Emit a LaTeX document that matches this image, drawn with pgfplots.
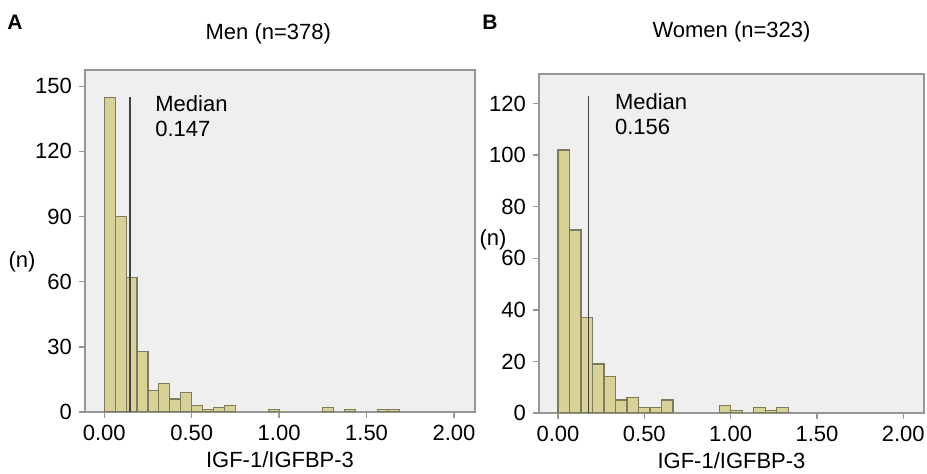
\documentclass[border=0pt]{standalone}
\usepackage{fontspec}
\setmainfont{Liberation Sans}
\usepackage{pgfplots}
\pgfplotsset{compat=1.18}

\definecolor{barfill}{RGB}{216,210,152}
\definecolor{baredge}{RGB}{125,123,90}
\definecolor{panelbg}{RGB}{239,239,239}
\definecolor{framec}{RGB}{150,150,150}

\pgfplotsset{
  histo/.style={
    scale only axis,
    axis background/.style={fill=panelbg},
    axis line style={framec, line width=0.9pt},
    tick style={framec, line width=0.7pt},
    tick align=outside, tick pos=left,
    major tick length=3pt,
    xmin=-0.11, xmax=2.12, ymin=0,
    xtick={0,0.5,1,1.5,2},
    xticklabel style={/pgf/number format/.cd, fixed, zerofill, precision=2},
    /pgf/number format/assume math mode=true,
    tick label style={font=\fontsize{11}{13}\selectfont},
    label style={font=\fontsize{11}{13}\selectfont},
    xlabel style={at={(axis description cs:0.5,0)}, anchor=center, yshift=-24pt},
    xlabel={IGF-1/IGFBP-3},
    ylabel={(n)},
  },
  bars/.style={ybar, bar shift=0pt, fill=barfill, draw=baredge, line width=0.6pt},
  medline/.style={sharp plot, no marks, black!75, line width=0.8pt},
}

\begin{document}
\begin{tikzpicture}
\path[use as bounding box] (0,0) rectangle (463.5pt,237pt);

% A: men
\begin{axis}[histo,
  at={(42.5pt,31pt)}, anchor=south west,
  width=195pt, height=171pt,
  ymax=157.5, ytick={0,30,60,90,120,150},
  title={Men (n=378)},
  title style={font=\fontsize{11}{13}\selectfont, at={(axis description cs:0.47,1)}, anchor=center, yshift=12pt},
  ylabel style={rotate=-90, at={(axis description cs:0,0.44)}, anchor=center, xshift=-31.5pt},
]
\addplot[bars, bar width=0.0625] coordinates {
  (0.03125,145) (0.09375,90) (0.15625,62) (0.21875,28)
  (0.28125,10) (0.34375,13) (0.40625,6) (0.46875,9)
  (0.53125,3) (0.59375,1) (0.65625,2) (0.71875,3)
  (0.96875,1) (1.28125,2) (1.40625,1) (1.59375,1) (1.65625,1)
};
\addplot[medline] coordinates {(0.147,0) (0.147,145)};
\node[anchor=north west, inner sep=0pt, align=left, font=\fontsize{11}{12.5}\selectfont]
  at (axis cs:0.29,146) {Median\\0.147};
\end{axis}

% B: women
\begin{axis}[histo,
  at={(269.5pt,30.5pt)}, anchor=south west,
  width=192.5pt, height=169.5pt,
  ymax=131.5, ytick={0,20,40,60,80,100,120},
  title={Women (n=323)},
  title style={font=\fontsize{11}{13}\selectfont, at={(axis description cs:0.5,1)}, anchor=center, yshift=15pt},
  ylabel style={rotate=-90, at={(axis description cs:0,0.51)}, anchor=center, xshift=-23pt},
]
\addplot[bars, bar width=0.066667] coordinates {
  (0.033333,102) (0.1,71) (0.166667,37) (0.233333,19)
  (0.3,14) (0.366667,5) (0.433333,6) (0.5,2)
  (0.566667,2) (0.633333,5)
  (0.966667,3) (1.033333,1) (1.166667,2) (1.233333,1) (1.3,2)
};
\addplot[medline] coordinates {(0.176,0) (0.176,123)};
\node[anchor=north west, inner sep=0pt, align=left, font=\fontsize{11}{12.5}\selectfont]
  at (axis cs:0.328,124) {Median\\0.156};
\end{axis}

\node[font=\bfseries\fontsize{10.5}{12}\selectfont] at (7.5pt,226pt) {A};
\node[font=\bfseries\fontsize{10.5}{12}\selectfont] at (245pt,226pt) {B};
\end{tikzpicture}
\end{document}
